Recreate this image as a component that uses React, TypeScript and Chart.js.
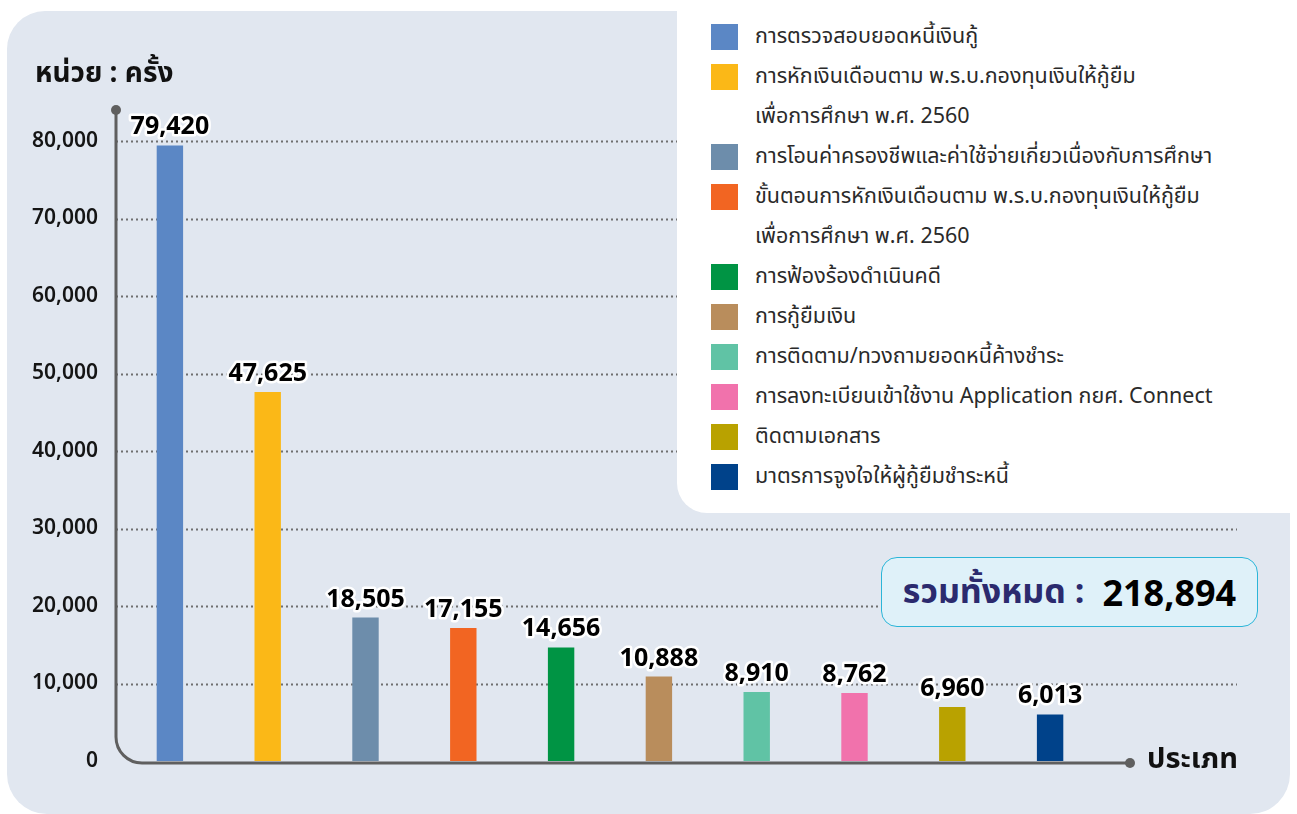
import React, { useEffect, useRef } from "react";
import { Chart, registerables } from "chart.js";

Chart.register(...registerables);

const categories: string[] = [
  "การตรวจสอบยอดหนี้เงินกู้",
  "การหักเงินเดือนตาม พ.ร.บ.กองทุนเงินให้กู้ยืม\nเพื่อการศึกษา พ.ศ. 2560",
  "การโอนค่าครองชีพและค่าใช้จ่ายเกี่ยวเนื่องกับการศึกษา",
  "ขั้นตอนการหักเงินเดือนตาม พ.ร.บ.กองทุนเงินให้กู้ยืม\nเพื่อการศึกษา พ.ศ. 2560",
  "การฟ้องร้องดำเนินคดี",
  "การกู้ยืมเงิน",
  "การติดตาม/ทวงถามยอดหนี้ค้างชำระ",
  "การลงทะเบียนเข้าใช้งาน Application กยศ. Connect",
  "ติดตามเอกสาร",
  "มาตรการจูงใจให้ผู้กู้ยืมชำระหนี้",
];

const values: number[] = [79420, 47625, 18505, 17155, 14656, 10888, 8910, 8762, 6960, 6013];

const colors: string[] = [
  "#5b87c5",
  "#fbb817",
  "#6d8dab",
  "#f26522",
  "#009444",
  "#b98d5c",
  "#60c3a5",
  "#f172ac",
  "#b9a200",
  "#00428a",
];

const yMax = 80000;
const yStep = 10000;
const yTitle = "หน่วย : ครั้ง";
const xTitle = "ประเภท";
const totalLabel = "รวมทั้งหมด :";
const totalValue = values.reduce((a, b) => a + b, 0);

const THAI = '"Noto Sans Thai", "Noto Sans Thai UI", Tahoma, "Leelawadee UI", Loma, Garuda, "Noto Sans", sans-serif';
const NUM = '"Noto Sans", "DejaVu Sans", sans-serif';

const fmt = (v: number) => v.toLocaleString("en-US");

const decorPlugin = {
  id: "decor",
  beforeDatasetsDraw(chart: any) {
    const { ctx, chartArea, scales } = chart;
    const y = scales.y;
    const left = chartArea.left - 5;
    const right = chartArea.right + 138;
    ctx.save();
    ctx.strokeStyle = "#6f6f6f";
    ctx.lineWidth = 2;
    ctx.setLineDash([2, 3]);
    y.ticks.forEach((t: any) => {
      if (t.value === 0) return;
      const py = Math.round(y.getPixelForValue(t.value)) + 0.5;
      ctx.beginPath();
      ctx.moveTo(left, py);
      ctx.lineTo(right, py);
      ctx.stroke();
    });
    ctx.restore();
  },
  afterDatasetsDraw(chart: any) {
    const { ctx, chartArea, scales } = chart;
    const y = scales.y;
    const ax = chartArea.left - 5;
    const ay = y.getPixelForValue(0) + 2;
    const topY = chartArea.top - 31;
    const endX = chartArea.right + 31;
    const r = 26;
    ctx.save();
    ctx.strokeStyle = "#5f5f5f";
    ctx.fillStyle = "#5f5f5f";
    ctx.lineWidth = 3;
    ctx.beginPath();
    ctx.moveTo(ax, topY);
    ctx.lineTo(ax, ay - r);
    ctx.arcTo(ax, ay, ax + r, ay, r);
    ctx.lineTo(endX, ay);
    ctx.stroke();
    ctx.beginPath();
    ctx.arc(ax, topY, 5, 0, Math.PI * 2);
    ctx.fill();
    ctx.beginPath();
    ctx.arc(endX, ay, 5, 0, Math.PI * 2);
    ctx.fill();

    // value labels
    const meta = chart.getDatasetMeta(0);
    ctx.font = `bold 25px ${NUM}`;
    ctx.textAlign = "center";
    ctx.textBaseline = "alphabetic";
    ctx.lineJoin = "round";
    meta.data.forEach((bar: any, i: number) => {
      const text = fmt(values[i]);
      const tx = bar.x;
      const ty = bar.y - 11;
      ctx.strokeStyle = "#ffffff";
      ctx.lineWidth = 5;
      ctx.strokeText(text, tx, ty);
      ctx.fillStyle = "#000000";
      ctx.fillText(text, tx, ty);
    });
    ctx.restore();
  },
};

export default function App() {
  const canvasRef = useRef<HTMLCanvasElement | null>(null);

  useEffect(() => {
    if (!canvasRef.current) return;
    const chart = new Chart(canvasRef.current, {
      type: "bar",
      data: {
        labels: categories.map((c) => c.replace("\n", " ")),
        datasets: [
          {
            data: values,
            backgroundColor: colors,
            borderWidth: 0,
            barPercentage: 0.27,
            categoryPercentage: 1,
          },
        ],
      },
      options: {
        animation: false,
        responsive: false,
        maintainAspectRatio: false,
        devicePixelRatio: 1,
        layout: { padding: { top: 141, right: 198, bottom: 53, left: 0 } },
        plugins: {
          legend: { display: false },
          tooltip: { enabled: false },
        },
        scales: {
          x: { display: false, offset: true },
          y: {
            min: 0,
            max: yMax,
            border: { display: false },
            grid: { display: false, drawTicks: false },
            afterFit: (scale: any) => {
              scale.width = 121;
            },
            ticks: {
              stepSize: yStep,
              padding: 23,
              color: "#151515",
              font: { size: 21, weight: 600, family: NUM },
              callback: (v: any) => fmt(Number(v)),
            },
          },
        },
      },
      plugins: [decorPlugin],
    });
    return () => chart.destroy();
  }, []);

  return (
    <div style={{ position: "absolute", left: 0, top: 0, width: 1297, height: 814, overflow: "hidden", background: "#ffffff", fontFamily: THAI }}>
      <div
        style={{
          position: "absolute",
          left: 7,
          top: 11,
          width: 1283,
          height: 803,
          background: "#e1e7f0",
          borderRadius: "38px 38px 40px 40px",
        }}
      />
      <canvas ref={canvasRef} width={1297} height={814} style={{ position: "absolute", left: 0, top: 0, width: 1297, height: 814 }} />
      <div
        style={{
          position: "absolute",
          left: 35,
          top: 55,
          fontSize: 28,
          fontWeight: 700,
          color: "#111",
          lineHeight: "38px",
          whiteSpace: "nowrap",
        }}
      >
        {yTitle}
      </div>
      <div
        style={{
          position: "absolute",
          left: 1147,
          top: 740,
          fontSize: 29,
          fontWeight: 700,
          color: "#111",
          lineHeight: "38px",
          whiteSpace: "nowrap",
        }}
      >
        {xTitle}
      </div>
      <div
        style={{
          position: "absolute",
          left: 677,
          top: 0,
          width: 620,
          height: 513,
          background: "#ffffff",
          borderBottomLeftRadius: 30,
        }}
      >
        <div style={{ position: "absolute", left: 34, top: 17 }}>
          {categories.map((c, i) => (
            <div key={i} style={{ position: "relative", paddingLeft: 44, fontSize: 21.5, lineHeight: "40px", color: "#2a2a2a", whiteSpace: "pre-line" }}>
              <span
                style={{
                  position: "absolute",
                  left: 0,
                  top: 7,
                  width: 27,
                  height: 26,
                  background: colors[i],
                }}
              />
              {c}
            </div>
          ))}
        </div>
      </div>
      <div
        style={{
          position: "absolute",
          left: 881,
          top: 557,
          width: 375,
          height: 68,
          background: "#dff1f9",
          border: "1.5px solid #2bb5d8",
          borderRadius: 16,
          display: "flex",
          alignItems: "center",
          justifyContent: "center",
          whiteSpace: "nowrap",
        }}
      >
        <span style={{ fontSize: 34, fontWeight: 700, color: "#2b2a6e", marginRight: 18 }}>{totalLabel}</span>
        <span style={{ fontSize: 36, fontWeight: 700, color: "#000", fontFamily: NUM }}>{fmt(totalValue)}</span>
      </div>
    </div>
  );
}
